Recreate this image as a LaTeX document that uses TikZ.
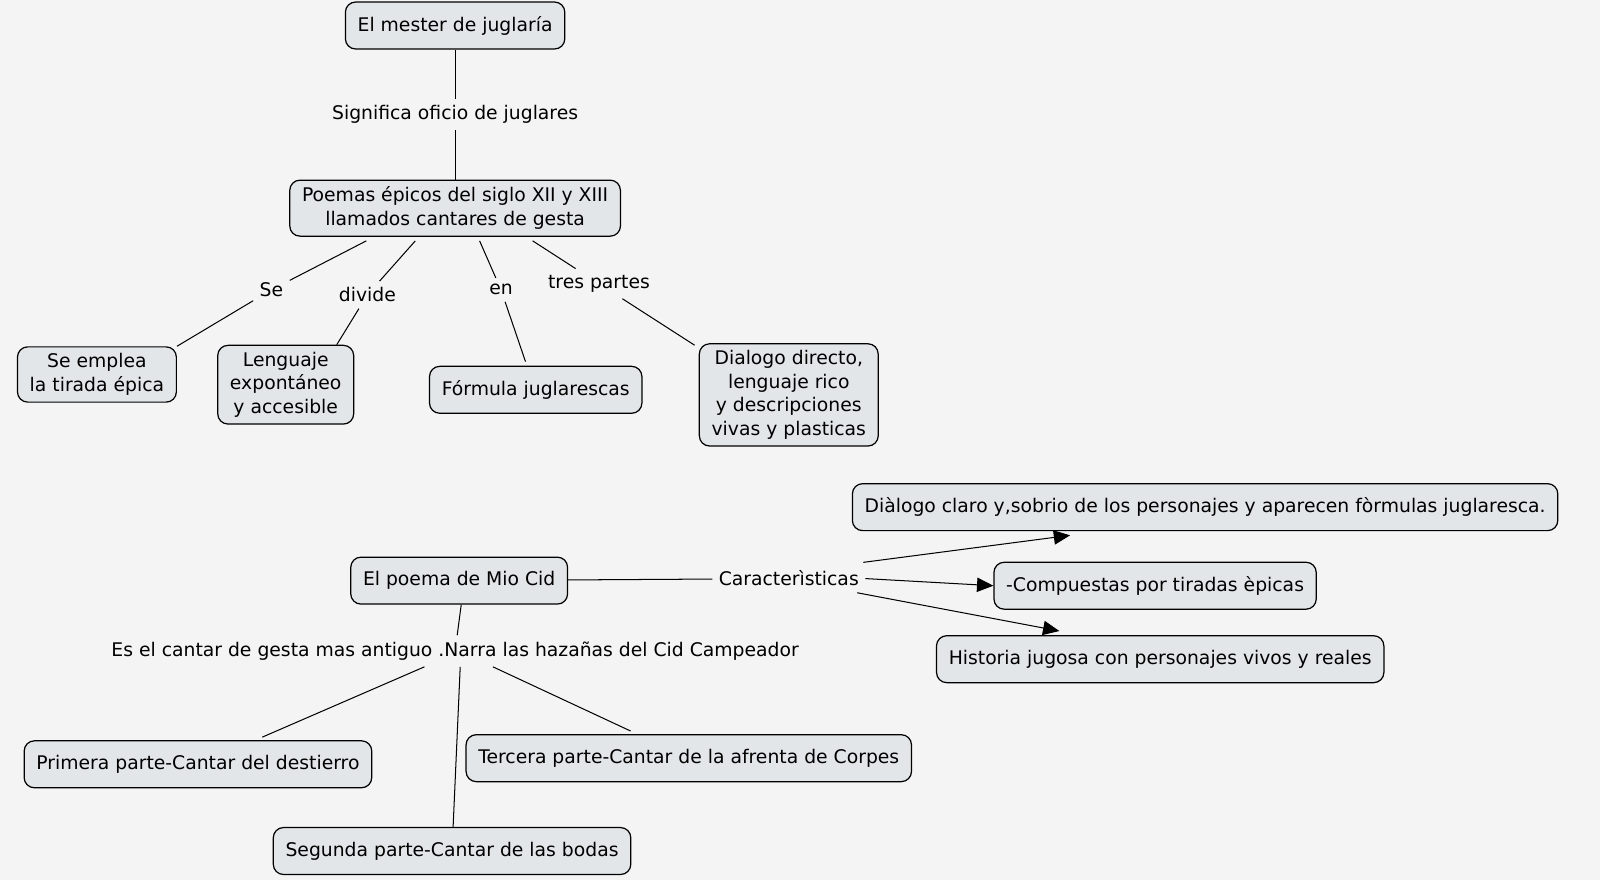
\documentclass[tikz,border=0pt]{standalone}
\usepackage{fontspec}
\setmainfont{DejaVu Sans}
\usetikzlibrary{arrows.meta,calc}
\begin{document}
\begin{tikzpicture}[x=0.5pt,y=-0.5pt,font=\fontsize{9.2}{11.5}\selectfont,
  box/.style={draw=black,fill=boxfill,rounded corners=5pt,line width=0.6pt,align=center,minimum height=23pt,inner xsep=6pt},
  lbl/.style={inner sep=3pt,align=center},
  ln/.style={line width=0.5pt},
  arr/.style={line width=0.5pt,-{Triangle[length=8pt,width=7pt]}}]
\definecolor{boxfill}{HTML}{E2E6E8}
\definecolor{bg}{HTML}{F4F4F4}
\fill[bg] (0,0) rectangle (1568,862);
\useasboundingbox (0,0) rectangle (1568,862);
\node[box] (A) at (446,25) {El mester de juglaría};
\node[lbl] (sig) at (446,112) {Significa oficio de juglares};
\node[box] (B) at (446,204) {Poemas épicos del siglo XII y XIII\\llamados cantares de gesta};
\node[lbl] (se) at (266,284) {Se};
\node[lbl] (div) at (360,289) {divide};
\node[lbl] (en) at (491,284) {en};
\node[lbl] (tp) at (587,278) {tres partes};
\node[box] (C1) at (95,367) {Se emplea\\la tirada épica};
\node[box] (C2) at (280,377) {Lenguaje\\expontáneo\\y accesible};
\node[box] (C3) at (525,382) {Fórmula juglarescas};
\node[box] (C4) at (773,387) {Dialogo directo,\\lenguaje rico\\y descripciones\\vivas y plasticas};
\draw[ln] (A) -- (sig) -- (B);
\draw[ln] ($(B.south)+(-87,4)$) -- (se) -- (C1.north east);
\draw[ln] ($(B.south)+(-39,4)$) -- (div) -- ($(C2.north)+(50,0)$);
\draw[ln] ($(B.south)+(24,4)$) -- (en) -- ($(C3.north)+(-10,-4)$);
\draw[ln] ($(B.south)+(76,4)$) -- (tp) -- ($(C4.north west)+(-4,2)$);
% Mio Cid
\node[box] (D) at (450,569) {El poema de Mio Cid};
\node[lbl] (car) at (773,567) {Caracterìsticas};
\node[box] (E1) at (1181,497) {Diàlogo claro y,sobrio de los personajes y aparecen fòrmulas juglaresca.};
\node[box] (E2) at (1132,574) {-Compuestas por tiradas èpicas};
\node[box] (E3) at (1137,646) {Historia jugosa con personajes vivos y reales};
\draw[ln] (D) -- (car);
\draw[arr] ($(car.north east)+(-2,-2)$) -- ($(E1.south west)+(214,4)$);
\draw[arr] (car.east) -- (E2.west);
\draw[arr] ($(car.south east)+(-8,0)$) -- ($(E3.north west)+(121,-4)$);
\node[lbl] (es) at (446,638) {Es el cantar de gesta mas antiguo .Narra las hazañas del Cid Campeador};
\node[box] (F1) at (194,749) {Primera parte-Cantar del destierro};
\node[box] (F2) at (443,834) {Segunda parte-Cantar de las bodas};
\draw[ln] ($(D.south)+(2,0)$) -- (es);
\draw[ln] ($(es.south)+(5,0)$) -- (F2);
\node[box] (F3) at (675,743) {Tercera parte-Cantar de la afrenta de Corpes};
\draw[ln] ($(es.south)+(-30,0)$) -- ($(F1.north)+(63,-3)$);
\draw[ln] ($(es.south)+(37,0)$) -- ($(F3.north)+(-57,-3)$);
\end{tikzpicture}
\end{document}
